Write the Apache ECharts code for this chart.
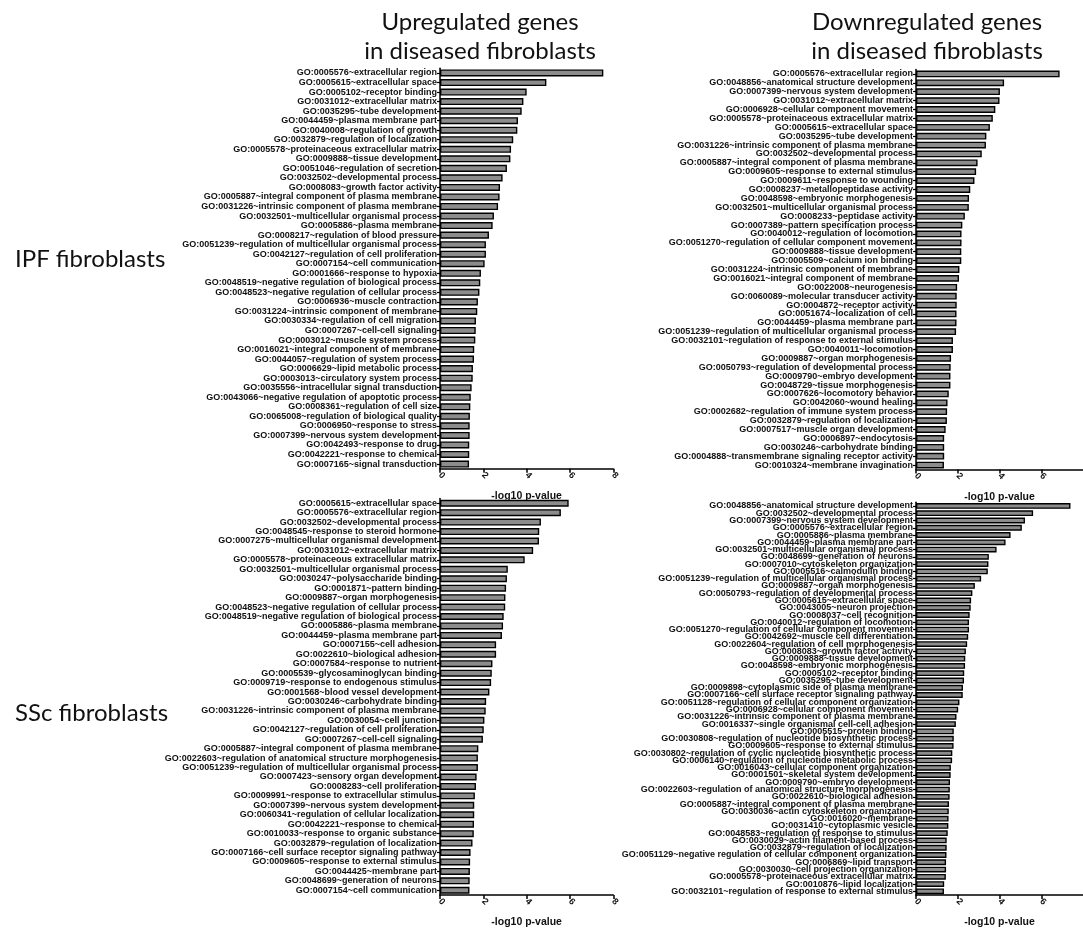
<!DOCTYPE html>
<html>
<head>
<meta charset="utf-8">
<script src="https://cdn.jsdelivr.net/npm/echarts@6/dist/echarts.min.js"></script>
<style>
  html, body { margin: 0; padding: 0; background: #fff; }
  #chart { width: 1083px; height: 929px; }
</style>
</head>
<body>
<div id="chart"></div>
<script>
// GO term enrichment (-log10 p-value) for genes up/down in IPF and SSc fibroblasts

const ipfUpTerms = [
  'GO:0005576~extracellular region', 'GO:0005615~extracellular space', 'GO:0005102~receptor binding',
  'GO:0031012~extracellular matrix', 'GO:0035295~tube development', 'GO:0044459~plasma membrane part',
  'GO:0040008~regulation of growth', 'GO:0032879~regulation of localization',
  'GO:0005578~proteinaceous extracellular matrix', 'GO:0009888~tissue development',
  'GO:0051046~regulation of secretion', 'GO:0032502~developmental process',
  'GO:0008083~growth factor activity', 'GO:0005887~integral component of plasma membrane',
  'GO:0031226~intrinsic component of plasma membrane', 'GO:0032501~multicellular organismal process',
  'GO:0005886~plasma membrane', 'GO:0008217~regulation of blood pressure',
  'GO:0051239~regulation of multicellular organismal process', 'GO:0042127~regulation of cell proliferation',
  'GO:0007154~cell communication', 'GO:0001666~response to hypoxia',
  'GO:0048519~negative regulation of biological process', 'GO:0048523~negative regulation of cellular process',
  'GO:0006936~muscle contraction', 'GO:0031224~intrinsic component of membrane',
  'GO:0030334~regulation of cell migration', 'GO:0007267~cell-cell signaling',
  'GO:0003012~muscle system process', 'GO:0016021~integral component of membrane',
  'GO:0044057~regulation of system process', 'GO:0006629~lipid metabolic process',
  'GO:0003013~circulatory system process', 'GO:0035556~intracellular signal transduction',
  'GO:0043066~negative regulation of apoptotic process', 'GO:0008361~regulation of cell size',
  'GO:0065008~regulation of biological quality', 'GO:0006950~response to stress',
  'GO:0007399~nervous system development', 'GO:0042493~response to drug',
  'GO:0042221~response to chemical', 'GO:0007165~signal transduction'
];
const ipfUpScores = [
  7.54, 4.91, 4.00, 3.85, 3.77, 3.60, 3.57, 3.38, 3.28, 3.25, 3.09, 2.89, 2.77, 2.75,
  2.68, 2.49, 2.43, 2.26, 2.12, 2.12, 2.06, 1.89, 1.86, 1.82, 1.75, 1.72, 1.66, 1.65,
  1.63, 1.58, 1.57, 1.52, 1.51, 1.46, 1.42, 1.40, 1.38, 1.37, 1.37, 1.35, 1.35, 1.34
];

const ipfDownTerms = [
  'GO:0005576~extracellular region', 'GO:0048856~anatomical structure development',
  'GO:0007399~nervous system development', 'GO:0031012~extracellular matrix',
  'GO:0006928~cellular component movement', 'GO:0005578~proteinaceous extracellular matrix',
  'GO:0005615~extracellular space', 'GO:0035295~tube development',
  'GO:0031226~intrinsic component of plasma membrane', 'GO:0032502~developmental process',
  'GO:0005887~integral component of plasma membrane', 'GO:0009605~response to external stimulus',
  'GO:0009611~response to wounding', 'GO:0008237~metallopeptidase activity',
  'GO:0048598~embryonic morphogenesis', 'GO:0032501~multicellular organismal process',
  'GO:0008233~peptidase activity', 'GO:0007389~pattern specification process',
  'GO:0040012~regulation of locomotion', 'GO:0051270~regulation of cellular component movement',
  'GO:0009888~tissue development', 'GO:0005509~calcium ion binding',
  'GO:0031224~intrinsic component of membrane', 'GO:0016021~integral component of membrane',
  'GO:0022008~neurogenesis', 'GO:0060089~molecular transducer activity',
  'GO:0004872~receptor activity', 'GO:0051674~localization of cell',
  'GO:0044459~plasma membrane part', 'GO:0051239~regulation of multicellular organismal process',
  'GO:0032101~regulation of response to external stimulus', 'GO:0040011~locomotion',
  'GO:0009887~organ morphogenesis', 'GO:0050793~regulation of developmental process',
  'GO:0009790~embryo development', 'GO:0048729~tissue morphogenesis',
  'GO:0007626~locomotory behavior', 'GO:0042060~wound healing',
  'GO:0002682~regulation of immune system process', 'GO:0032879~regulation of localization',
  'GO:0007517~muscle organ development', 'GO:0006897~endocytosis',
  'GO:0030246~carbohydrate binding', 'GO:0004888~transmembrane signaling receptor activity',
  'GO:0010324~membrane invagination'
];
const ipfDownScores = [
  6.88, 4.22, 4.02, 4.00, 3.80, 3.68, 3.54, 3.37, 3.35, 3.15, 2.95, 2.88, 2.80, 2.60, 2.54,
  2.53, 2.34, 2.22, 2.18, 2.18, 2.17, 2.17, 2.08, 2.06, 1.97, 1.95, 1.95, 1.94, 1.94, 1.92,
  1.77, 1.77, 1.68, 1.66, 1.65, 1.65, 1.57, 1.51, 1.49, 1.48, 1.42, 1.35, 1.35, 1.35, 1.34
];

const sscUpTerms = [
  'GO:0005615~extracellular space', 'GO:0005576~extracellular region',
  'GO:0032502~developmental process', 'GO:0048545~response to steroid hormone',
  'GO:0007275~multicellular organismal development', 'GO:0031012~extracellular matrix',
  'GO:0005578~proteinaceous extracellular matrix', 'GO:0032501~multicellular organismal process',
  'GO:0030247~polysaccharide binding', 'GO:0001871~pattern binding',
  'GO:0009887~organ morphogenesis', 'GO:0048523~negative regulation of cellular process',
  'GO:0048519~negative regulation of biological process', 'GO:0005886~plasma membrane',
  'GO:0044459~plasma membrane part', 'GO:0007155~cell adhesion',
  'GO:0022610~biological adhesion', 'GO:0007584~response to nutrient',
  'GO:0005539~glycosaminoglycan binding', 'GO:0009719~response to endogenous stimulus',
  'GO:0001568~blood vessel development', 'GO:0030246~carbohydrate binding',
  'GO:0031226~intrinsic component of plasma membrane', 'GO:0030054~cell junction',
  'GO:0042127~regulation of cell proliferation', 'GO:0007267~cell-cell signaling',
  'GO:0005887~integral component of plasma membrane',
  'GO:0022603~regulation of anatomical structure morphogenesis',
  'GO:0051239~regulation of multicellular organismal process', 'GO:0007423~sensory organ development',
  'GO:0008283~cell proliferation', 'GO:0009991~response to extracellular stimulus',
  'GO:0007399~nervous system development', 'GO:0060341~regulation of cellular localization',
  'GO:0042221~response to chemical', 'GO:0010033~response to organic substance',
  'GO:0032879~regulation of localization', 'GO:0007166~cell surface receptor signaling pathway',
  'GO:0009605~response to external stimulus', 'GO:0044425~membrane part',
  'GO:0048699~generation of neurons', 'GO:0007154~cell communication'
];
const sscUpScores = [
  5.94, 5.58, 4.66, 4.58, 4.57, 4.30, 3.91, 3.13, 3.09, 3.05, 3.02, 3.01, 2.94, 2.91,
  2.86, 2.59, 2.59, 2.42, 2.39, 2.36, 2.28, 2.13, 2.11, 2.05, 2.02, 1.98, 1.77, 1.75,
  1.75, 1.69, 1.66, 1.61, 1.58, 1.58, 1.57, 1.56, 1.50, 1.41, 1.39, 1.38, 1.37, 1.36
];

const sscDownTerms = [
  'GO:0048856~anatomical structure development', 'GO:0032502~developmental process',
  'GO:0007399~nervous system development', 'GO:0005576~extracellular region',
  'GO:0005886~plasma membrane', 'GO:0044459~plasma membrane part',
  'GO:0032501~multicellular organismal process', 'GO:0048699~generation of neurons',
  'GO:0007010~cytoskeleton organization', 'GO:0005516~calmodulin binding',
  'GO:0051239~regulation of multicellular organismal process', 'GO:0009887~organ morphogenesis',
  'GO:0050793~regulation of developmental process', 'GO:0005615~extracellular space',
  'GO:0043005~neuron projection', 'GO:0008037~cell recognition',
  'GO:0040012~regulation of locomotion', 'GO:0051270~regulation of cellular component movement',
  'GO:0042692~muscle cell differentiation', 'GO:0022604~regulation of cell morphogenesis',
  'GO:0008083~growth factor activity', 'GO:0009888~tissue development',
  'GO:0048598~embryonic morphogenesis', 'GO:0005102~receptor binding',
  'GO:0035295~tube development', 'GO:0009898~cytoplasmic side of plasma membrane',
  'GO:0007166~cell surface receptor signaling pathway',
  'GO:0051128~regulation of cellular component organization', 'GO:0006928~cellular component movement',
  'GO:0031226~intrinsic component of plasma membrane', 'GO:0016337~single organismal cell-cell adhesion',
  'GO:0005515~protein binding', 'GO:0030808~regulation of nucleotide biosynthetic process',
  'GO:0009605~response to external stimulus',
  'GO:0030802~regulation of cyclic nucleotide biosynthetic process',
  'GO:0006140~regulation of nucleotide metabolic process', 'GO:0016043~cellular component organization',
  'GO:0001501~skeletal system development', 'GO:0009790~embryo development',
  'GO:0022603~regulation of anatomical structure morphogenesis', 'GO:0022610~biological adhesion',
  'GO:0005887~integral component of plasma membrane', 'GO:0030036~actin cytoskeleton organization',
  'GO:0016020~membrane', 'GO:0031410~cytoplasmic vesicle',
  'GO:0048583~regulation of response to stimulus', 'GO:0030029~actin filament-based process',
  'GO:0032879~regulation of localization',
  'GO:0051129~negative regulation of cellular component organization', 'GO:0006869~lipid transport',
  'GO:0030030~cell projection organization', 'GO:0005578~proteinaceous extracellular matrix',
  'GO:0010876~lipid localization', 'GO:0032101~regulation of response to external stimulus'
];
const sscDownScores = [
  7.40, 5.61, 5.22, 5.07, 4.53, 4.29, 3.86, 3.49, 3.47, 3.44, 3.12, 2.82, 2.70, 2.64,
  2.62, 2.57, 2.54, 2.54, 2.50, 2.45, 2.39, 2.36, 2.35, 2.31, 2.30, 2.25, 2.24, 2.08,
  2.02, 1.94, 1.91, 1.81, 1.81, 1.80, 1.74, 1.73, 1.67, 1.66, 1.63, 1.62, 1.61, 1.58,
  1.57, 1.56, 1.55, 1.52, 1.47, 1.47, 1.46, 1.44, 1.44, 1.43, 1.35, 1.34
];

const xTickLabels = [0, 2, 4, 6, 8];
const xTickLabelsClipped = [0, 2, 4, 6];
const axisTitle = '-log10 p-value';

// panel frames in pixels: plot area left/top/width/height
const panels = [
  { terms: ipfUpTerms,   scores: ipfUpScores,   left: 440, top: 68.2,  width: 173.3, height: 400.6, gap: '26%', labels: xTickLabels },
  { terms: ipfDownTerms, scores: ipfDownScores, left: 916, top: 69.5,  width: 172,   height: 400,   gap: '24%', labels: xTickLabelsClipped },
  { terms: sscUpTerms,   scores: sscUpScores,   left: 440, top: 498.5, width: 173.3, height: 401,   gap: '26%', labels: xTickLabels },
  { terms: sscDownTerms, scores: sscDownScores, left: 916, top: 502.3, width: 172,   height: 396,   gap: '20%', labels: xTickLabelsClipped }
];

const labelFont = '"Liberation Sans", Arial, sans-serif';
const headFont = 'Lato, "Open Sans", sans-serif';

const chart = echarts.init(document.getElementById('chart'), null, { renderer: 'canvas' });

const option = {
  animation: false,
  backgroundColor: '#ffffff',
  grid: panels.map(p => ({ left: p.left, top: p.top, width: p.width, height: p.height, containLabel: false })),
  xAxis: panels.map((p, i) => ({
    gridIndex: i,
    type: 'value',
    min: 0,
    max: 8,
    interval: 2,
    splitLine: { show: false },
    axisLine: { show: true, lineStyle: { color: '#000', width: 1.5 } },
    axisTick: { show: true, length: 4, lineStyle: { color: '#000', width: 1.5 }, customValues: p.labels },
    axisLabel: {
      rotate: -45, fontSize: 9, fontWeight: 'bold', color: '#111', margin: 5,
      fontFamily: labelFont, customValues: p.labels
    },
    name: axisTitle,
    nameLocation: 'middle',
    nameGap: 22,
    nameTextStyle: { fontSize: 10.5, fontWeight: 'bold', color: '#111', fontFamily: labelFont }
  })),
  yAxis: panels.map((p, i) => ({
    gridIndex: i,
    type: 'category',
    inverse: true,
    data: p.terms,
    axisLine: { show: true, lineStyle: { color: '#000', width: 1.5 } },
    axisTick: { show: true, length: 3, alignWithLabel: true, lineStyle: { color: '#000', width: 1.2 } },
    axisLabel: {
      interval: 0, fontSize: 9, fontWeight: 'bold', color: '#111', margin: 3,
      fontFamily: labelFont
    },
    splitLine: { show: false }
  })),
  series: panels.map((p, i) => ({
    type: 'bar',
    xAxisIndex: i,
    yAxisIndex: i,
    data: p.scores,
    barCategoryGap: p.gap,
    itemStyle: { color: '#8c8c8c', borderColor: '#000', borderWidth: 1.4 },
    emphasis: { disabled: true }
  })),
  graphic: [
    { type: 'text', style: { text: 'Upregulated genes\nin diseased fibroblasts', x: 480, y: 8, align: 'center', font: '24px ' + headFont, fill: '#111', lineHeight: 29 } },
    { type: 'text', style: { text: 'Downregulated genes\nin diseased fibroblasts', x: 927, y: 8, align: 'center', font: '24px ' + headFont, fill: '#111', lineHeight: 29 } },
    { type: 'text', style: { text: 'IPF fibroblasts', x: 15, y: 259, verticalAlign: 'middle', font: '24px ' + headFont, fill: '#111' } },
    { type: 'text', style: { text: 'SSc fibroblasts', x: 15, y: 713, verticalAlign: 'middle', font: '24px ' + headFont, fill: '#111' } }
  ]
};

chart.setOption(option);
</script>
</body>
</html>
